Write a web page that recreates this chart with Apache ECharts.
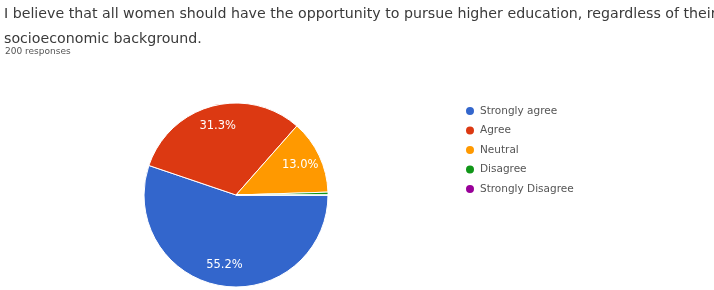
<!DOCTYPE html>
<html><head><meta charset="utf-8">
<script src="https://cdn.jsdelivr.net/npm/echarts@6/dist/echarts.min.js"></script>
<style>html,body{margin:0;padding:0;background:#fff}#c{width:714px;height:290px}</style>
</head><body><div id="c"></div>
<script>
const categories = ['Strongly agree', 'Agree', 'Neutral', 'Disagree', 'Strongly Disagree'];
const values = [55.2, 31.3, 13.0, 0.5, 0];
const colors = ['#3366cc', '#dc3912', '#ff9900', '#109618', '#990099'];
const titleText = 'I believe that all women should have the opportunity to pursue higher education, regardless of their\nsocioeconomic background.';
const subText = '200 responses';

const FONT = 'DejaVu Sans';
const chart = echarts.init(document.getElementById('c'));
const data = categories.map((n, i) => ({ name: n, value: values[i] }));
chart.setOption({
  animation: false,
  color: colors,
  title: [{
    text: titleText, left: 4, top: 2, padding: 0,
    textStyle: { fontFamily: FONT, fontSize: 14.2, fontWeight: 'normal', color: '#3a3a3a', lineHeight: 25 }
  }, {
    text: subText, left: 5, top: 47, padding: 0,
    textStyle: { fontFamily: FONT, fontSize: 9, fontWeight: 'normal', color: '#555', lineHeight: 10 }
  }],
  legend: {
    orient: 'vertical', left: 459, top: 100, icon: 'circle', itemWidth: 10, itemHeight: 10, itemGap: 7.5,
    textStyle: { fontFamily: FONT, fontSize: 10.5, color: '#555', lineHeight: 12 },
    data: categories
  },
  series: [{
    type: 'pie', center: [236, 195], radius: 92, startAngle: 0, clockwise: true,
    data: data,
    label: { show: false },
    labelLine: { show: false },
    itemStyle: { borderColor: '#fff', borderWidth: 1 }
  }, {
    type: 'pie', center: [236, 195], radius: [44, 92], startAngle: 0, clockwise: true,
    silent: true, z: 3,
    data: data,
    itemStyle: { color: 'rgba(0,0,0,0)', borderWidth: 0 },
    label: {
      position: 'inside', color: '#fff', fontFamily: FONT, fontSize: 11.5,
      formatter: p => p.percent >= 5 ? p.value.toFixed(1) + '%' : ''
    },
    labelLine: { show: false }
  }]
});
</script></body></html>
